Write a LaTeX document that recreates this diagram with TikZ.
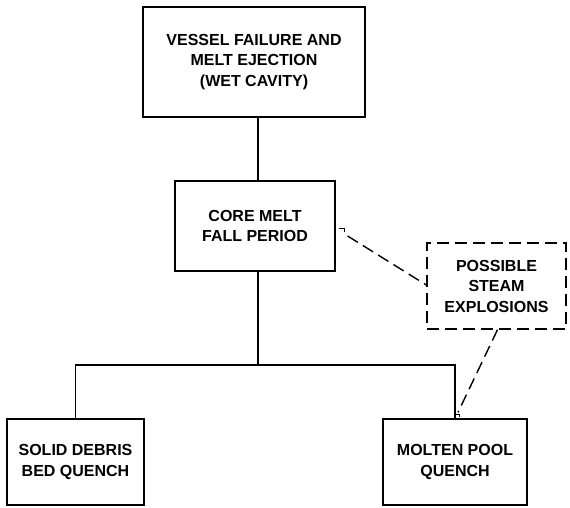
\documentclass[tikz,border=0pt]{standalone}
\usepackage{fontspec}
\setmainfont{Liberation Sans}
\usetikzlibrary{calc}
\begin{document}
\begin{tikzpicture}[x=1pt,y=1pt,
  box/.style={draw=black, line width=1.2pt, align=center, inner sep=0pt,
    font=\fontsize{16}{20.5}\selectfont\bfseries},
  conn/.style={draw=black, line width=1.2pt},
  dconn/.style={draw=black, line width=1.4pt, dash pattern=on 12pt off 6pt}]
\fill[white] (0,0) rectangle (570,-508);
\useasboundingbox (0,0) rectangle (570,-508);
\node[box, minimum width=222pt, minimum height=110pt] (top) at (254,-62)
  {VESSEL FAILURE AND\\MELT EJECTION\\(WET CAVITY)};
\node[box, minimum width=160pt, minimum height=90pt] (core) at (255,-226)
  {CORE MELT\\FALL PERIOD};
\node[box, line width=1.4pt, dash pattern=on 12pt off 6pt, minimum width=139pt, minimum height=86pt] (poss) at (496.5,-286)
  {POSSIBLE\\STEAM\\EXPLOSIONS};
\node[box, minimum width=137pt, minimum height=86pt] (solid) at (75.5,-462)
  {SOLID DEBRIS\\BED QUENCH};
\node[box, minimum width=144pt, minimum height=86pt] (molten) at (455,-462)
  {MOLTEN POOL\\QUENCH};
\coordinate (bus) at (258,-365);
\draw[conn] (top.south -| bus) -- (core.north -| bus);
\draw[conn] (core.south -| bus) -- (bus);
\draw[conn] (solid.north) |- (bus) -| (molten.north);
% dashed links
\coordinate (h1) at ($(core.east)+(3,-2)$);
\draw[line width=1pt] (h1) -- ++(6,0) -- ++(0,-4);
\draw[dconn] ($(core.east)+(12,-10)$) -- ($(poss.west)+(0,1)$);
\coordinate (h2) at ($(molten.north)+(3,6)$);
\draw[dconn] ($(poss.south)+(1,0)$) -- (h2);
\draw[line width=1pt] ($(h2)+(-3,-2)$) -- ++(4,0) -- ++(0,-3);
\end{tikzpicture}
\end{document}
